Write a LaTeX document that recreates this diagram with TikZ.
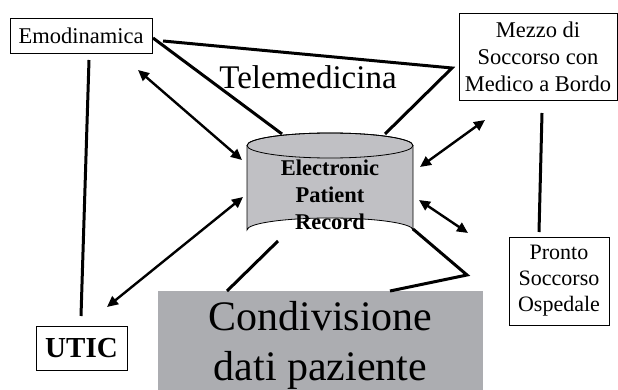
\documentclass[tikz,border=0pt]{standalone}
\usepackage{fontspec}
\setmainfont{Liberation Serif}
\usetikzlibrary{arrows.meta}

\definecolor{cylgray}{RGB}{192,192,196}
\definecolor{boxgray}{RGB}{172,173,177}

\tikzset{
  place/.style={draw,line width=0.8pt,inner sep=0pt,align=center,
    font=\fontsize{22.5}{27}\selectfont},
  link/.style={line width=3pt},
  flow/.style={line width=2.4pt,{Triangle[length=11pt,width=10pt]}-{Triangle[length=11pt,width=10pt]}}
}

\begin{document}
\begin{tikzpicture}[x=1pt,y=-1pt]
\useasboundingbox (0,0) rectangle (618,390);
%%% shared record and centres %%%

  \fill[cylgray,draw=black,line width=0.8pt]
     (247,145.5) -- (247,230) arc[start angle=180,end angle=360,x radius=83,y radius=12]
     -- (413,145.5) arc[start angle=0,end angle=-180,x radius=83,y radius=12.5] -- cycle;
  \draw[line width=0.8pt] (330,145.5) ellipse[x radius=83,y radius=12.5];

  \node (epr) at (330,195) [align=center,font=\fontsize{22.5}{27}\selectfont\bfseries] {Electronic\\Patient\\Record};
  \node (emo) at (81,35.5) [place,minimum width=142pt,minimum height=35pt] {Emodinamica};
  \node (mezzo) at (538,57) [place,minimum width=158pt,minimum height=87pt] {Mezzo di\\Soccorso con\\Medico a Bordo};
  \node (pronto) at (559,281) [place,minimum width=100pt,minimum height=88pt,
     font=\fontsize{22}{26}\selectfont] {Pronto\\Soccorso\\Ospedale};
  \node (utic) at (81.5,348) [place,minimum width=91pt,minimum height=44pt,
     font=\fontsize{29}{32}\selectfont\bfseries] {UTIC};
  \node (cond) at (320.5,340.5) [fill=boxgray,inner sep=0pt,minimum width=325pt,minimum height=99pt] {};
  \node (condtext) at (320.5,345) [align=center,inner sep=0pt,font=\fontsize{42}{50}\selectfont] {Condivisione\\dati paziente};
  \node (tele) at (308,77) [font=\fontsize{33}{36}\selectfont] {Telemedicina};

  \coordinate (apex) at (452,68);
  \coordinate (knee) at (467,275);
  \coordinate (cyltl) at (282,134);
  \coordinate (cyltr) at (385,134);
  \coordinate (cylbl) at (278,241);
  \coordinate (cylbr) at (413,229);

\draw[link]
   (153,38) to (cyltl)
   (163,41) to (apex) to (cyltr)
   (89,60) to (81,316)
   (542,113) to (539,232)
   (cylbl) to (227,291)
   (cylbr) to (knee) to (390,291);

\draw[flow] (138,70) to (242,160);
\draw[flow] (107,307) to (243,197);
\draw[flow] (485,120) to (420,167);
\draw[flow] (419,200) to (468,233);
\end{tikzpicture}
\end{document}
